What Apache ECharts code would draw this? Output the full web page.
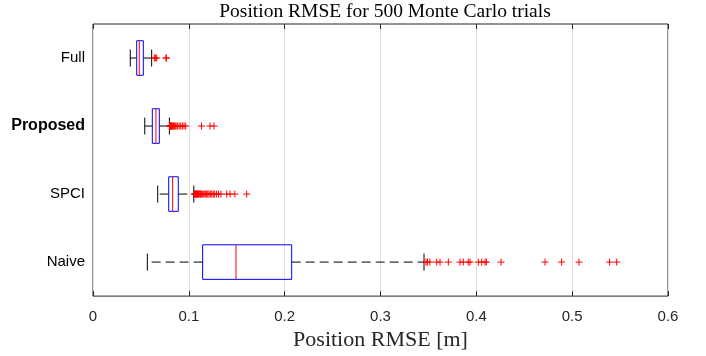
<!DOCTYPE html>
<html>
<head>
<meta charset="utf-8">
<script src="https://cdn.jsdelivr.net/npm/echarts@6/dist/echarts.min.js"></script>
<style>
  html, body { margin: 0; padding: 0; background: #fff; }
  #chart { width: 706px; height: 356px; }
</style>
</head>
<body>
<div id="chart"></div>
<script>
// Box statistics per method, top to bottom
const categories = ["Full", "Proposed", "SPCI", "Naive"]
const whiskerLow = [0.0389, 0.0540, 0.0675, 0.0567]
const q1 = [0.0456, 0.0619, 0.0790, 0.1144]
const median = [0.0483, 0.0657, 0.0831, 0.1492]
const q3 = [0.0525, 0.0692, 0.0890, 0.2073]
const whiskerHigh = [0.0612, 0.0797, 0.1052, 0.3454]

// Outliers (red +)
const fullOutliers = [0.0640, 0.0650, 0.0665, 0.0762, 0.0766]
const proposedOutliers = [0.0800, 0.0803, 0.0806, 0.0810, 0.0814, 0.0818, 0.0822, 0.0827,
  0.0833, 0.0840, 0.0848, 0.0858, 0.0867, 0.0880, 0.0898, 0.0915, 0.0932, 0.0950, 0.0967,
  0.1132, 0.1221, 0.1263]
const spciOutliers = [0.1058, 0.1062, 0.1066, 0.1070, 0.1075, 0.1080, 0.1085, 0.1090,
  0.1096, 0.1102, 0.1108, 0.1115, 0.1122, 0.1130, 0.1140, 0.1150, 0.1160, 0.1172, 0.1185,
  0.1198, 0.1210, 0.1225, 0.1240, 0.1255, 0.1270, 0.1290, 0.1310, 0.1335, 0.1395, 0.1430,
  0.1480, 0.1604]
const naiveOutliers = [0.3475, 0.3490, 0.3515, 0.3587, 0.3621, 0.3708, 0.3830, 0.3864,
  0.3916, 0.3934, 0.4021, 0.4056, 0.4091, 0.4104, 0.4258, 0.4717, 0.4890, 0.5071, 0.5391,
  0.5465]
const outliers = [fullOutliers, proposedOutliers, spciOutliers, naiveOutliers]

const xTicks = [0, 0.1, 0.2, 0.3, 0.4, 0.5, 0.6]

const AXIS_COLOR = "#262626"
const SANS = "'Liberation Sans', Arial, sans-serif"
const SERIF = "'Liberation Serif', 'DejaVu Serif', serif"

const boxData = categories.map((c, i) => [i, whiskerLow[i], q1[i], median[i], q3[i], whiskerHigh[i]])
const outlierData = []
outliers.forEach((list, i) => list.forEach((v) => outlierData.push([v, i])))

function renderBox(params, api) {
  const cat = api.value(0)
  const lo = api.coord([api.value(1), cat])
  const b1 = api.coord([api.value(2), cat])
  const md = api.coord([api.value(3), cat])
  const b3 = api.coord([api.value(4), cat])
  const hi = api.coord([api.value(5), cat])
  const band = api.size([0, 1])[1]
  const h = band * 0.254
  const c = band * 0.125
  const y = lo[1]
  const whisker = { stroke: "#000", lineWidth: 1, lineDash: [9, 5] }
  const cap = { stroke: "#000", lineWidth: 1 }
  return {
    type: "group",
    children: [
      { type: "line", shape: { x1: b1[0], y1: y, x2: lo[0], y2: y }, style: whisker },
      { type: "line", shape: { x1: b3[0], y1: y, x2: hi[0], y2: y }, style: whisker },
      { type: "line", shape: { x1: lo[0], y1: y - c, x2: lo[0], y2: y + c }, style: cap },
      { type: "line", shape: { x1: hi[0], y1: y - c, x2: hi[0], y2: y + c }, style: cap },
      {
        type: "rect",
        shape: { x: b1[0], y: y - h, width: b3[0] - b1[0], height: 2 * h },
        style: { fill: "none", stroke: "#0000ff", lineWidth: 1 },
      },
      { type: "line", shape: { x1: md[0], y1: y - h, x2: md[0], y2: y + h }, style: { stroke: "#ff0000", lineWidth: 1 } },
    ],
  }
}

function renderPlus(params, api) {
  const p = api.coord([api.value(0), api.value(1)])
  const s = 3.5
  const st = { stroke: "#ff0000", lineWidth: 1 }
  return {
    type: "group",
    children: [
      { type: "line", shape: { x1: p[0] - s, y1: p[1], x2: p[0] + s, y2: p[1] }, style: st },
      { type: "line", shape: { x1: p[0], y1: p[1] - s, x2: p[0], y2: p[1] + s }, style: st },
    ],
  }
}

const chart = echarts.init(document.getElementById("chart"))

const option = {
  animation: false,
  backgroundColor: "#fff",
  title: {
    text: "Position RMSE for 500 Monte Carlo trials",
    left: 380,
    textAlign: "center",
    top: -3,
    textStyle: { fontFamily: SERIF, fontSize: 19.5, fontWeight: "normal", color: "#000" },
  },
  grid: {
    left: 93, right: 38, top: 24, bottom: 55,
    show: true, borderColor: AXIS_COLOR, borderWidth: 1, backgroundColor: "#fff",
  },
  xAxis: [
    {
      type: "value",
      min: xTicks[0],
      max: xTicks[xTicks.length - 1],
      interval: 0.1,
      name: "Position RMSE [m]",
      nameLocation: "middle",
      nameGap: 18,
      nameTextStyle: { fontFamily: SERIF, fontSize: 22, color: "#262626" },
      axisLine: { show: false },
      axisTick: { show: true, inside: true, length: 5, lineStyle: { color: AXIS_COLOR } },
      axisLabel: { fontFamily: SANS, fontSize: 15, color: AXIS_COLOR, margin: 13 },
      splitLine: { show: true, lineStyle: { color: "#dfdfdf", width: 1 } },
    },
    {
      type: "value",
      position: "top",
      min: xTicks[0],
      max: xTicks[xTicks.length - 1],
      interval: 0.1,
      axisLine: { show: false },
      axisTick: { show: true, inside: true, length: 5, lineStyle: { color: AXIS_COLOR } },
      axisLabel: { show: false },
      splitLine: { show: false },
    },
  ],
  yAxis: {
    type: "category",
    inverse: true,
    data: categories.map((c) =>
      c === "Proposed" ? { value: c, textStyle: { fontWeight: "bold", fontSize: 16 } } : c
    ),
    axisLine: { show: false },
    axisTick: { show: false },
    axisLabel: { fontFamily: SANS, fontSize: 15, color: "#000", margin: 8 },
    splitLine: { show: false },
  },
  series: [
    {
      type: "custom",
      renderItem: renderBox,
      encode: { x: [1, 2, 3, 4, 5], y: 0 },
      data: boxData,
      silent: true,
      z: 2,
    },
    {
      type: "custom",
      renderItem: renderPlus,
      encode: { x: 0, y: 1 },
      data: outlierData,
      silent: true,
      z: 3,
    },
  ],
}

chart.setOption(option)
</script>
</body>
</html>
